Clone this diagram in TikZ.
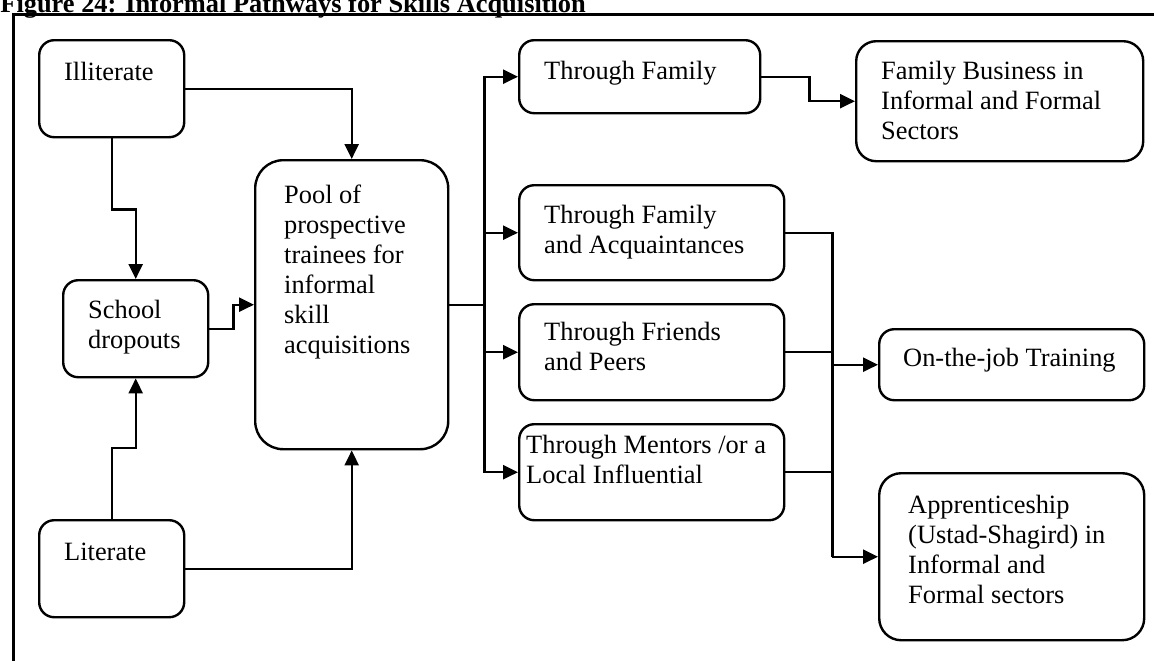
\documentclass[tikz,border=0pt]{standalone}
\usepackage{fontspec}
\setmainfont{Liberation Serif}
\usetikzlibrary{arrows.meta}

% Box contents: width, height, left padding, top padding (all in px units), text
\newcommand{\boxbody}[5]{%
  \parbox[t][\dimexpr #2pt/2\relax][t]{\dimexpr #1pt/2\relax}{%
    \raggedright\leftskip=\dimexpr #3pt/2\relax
    \vspace*{\dimexpr #4pt/2\relax}\strut #5}}

\begin{document}
\begin{tikzpicture}[x=0.5pt,y=-0.5pt,
  font=\fontsize{13.2}{15}\selectfont,
  box/.style={draw, line width=1.2pt, rounded corners=7.5pt, inner sep=0pt, anchor=north west},
  link/.style={line width=1.2pt},
  arr/.style={link, -{Triangle[length=7.5pt,width=7pt]}}]
\useasboundingbox (0,0) rectangle (1154,660);

% caption and outer frame
\node[anchor=base west, inner sep=0pt, font=\fontsize{13.2}{15}\selectfont\bfseries] (title) at (0,12.5)
  {Figure 24: Informal Pathways for Skills Acquisition};
\draw[line width=1.5pt] (13,700) -- (13,14) -- (1200,14);

% sources
\node[box] (ill) at (38,39) {\boxbody{145}{97}{25}{19}{Illiterate}};
\node[box] (school) at (62,279) {\boxbody{145}{97}{25}{17}{School\\dropouts}};
\node[box] (lit) at (38,519) {\boxbody{145}{97}{25}{19}{Literate}};

% pool
\node[box, rounded corners=14pt] (pool) at (254,159)
  {\boxbody{193}{289}{29}{22}{Pool of\\prospective\\trainees for\\informal\\skill\\acquisitions}};

% channels
\node[box] (tf) at (518,39) {\boxbody{241}{73}{25}{18}{Through Family}};
\node[box] (fa) at (518,184) {\boxbody{265}{95}{25}{17}{Through Family\\and Acquaintances}};
\node[box] (fr) at (518,303) {\boxbody{265}{96}{25}{15}{Through Friends\\and Peers}};
\node[box] (me) at (518,423) {\boxbody{265}{96}{7}{8}{Through Mentors /or a\\Local Influential}};

% outcomes
\node[box, rounded corners=10pt] (fb) at (855,40)
  {\boxbody{287}{120}{25}{17}{Family Business in\\Informal and Formal\\Sectors}};
\node[box] (ojt) at (878,328) {\boxbody{265}{71}{24}{16}{On-the-job Training}};
\node[box, rounded corners=11pt] (ap) at (878,472)
  {\boxbody{265}{167}{29}{19}{Apprenticeship\\(Ustad-Shagird) in\\Informal and\\Formal sectors}};

% feeds into the pool
\draw[arr] (ill.east) -| (pool.north);
\draw[arr] (ill.south) -- ++(0,71) -| (school.north);
\draw[arr] (lit.north) -- ++(0,-71) -| (school.south);
\draw[arr] (lit.east) -| (pool.south);
\draw[arr] (school.east) -- ++(24,0) |- (pool.west);

% pool to channels
\path (pool.east) ++(35,0) coordinate (bus);
\draw[link] (pool.east) -- (bus);
\draw[arr] (bus) |- (tf.west);
\draw[arr] (bus) |- (fa.west);
\draw[arr] (bus) |- (fr.west);
\draw[arr] (bus) |- (me.west);

% channels to outcomes
\draw[arr] (tf.east) -- ++(48,0) |- (fb.west);
\path (fa.east) ++(47,0) coordinate (rbus);
\draw[link] (fa.east) -- (rbus) -- (rbus |- ap.west);
\draw[link] (fr.east) -- (rbus |- fr.east);
\draw[link] (me.east) -- (rbus |- me.east);
\draw[arr] (rbus |- ojt.west) -- (ojt.west);
\draw[arr] (rbus |- ap.west) -- (ap.west);
\end{tikzpicture}
\end{document}
